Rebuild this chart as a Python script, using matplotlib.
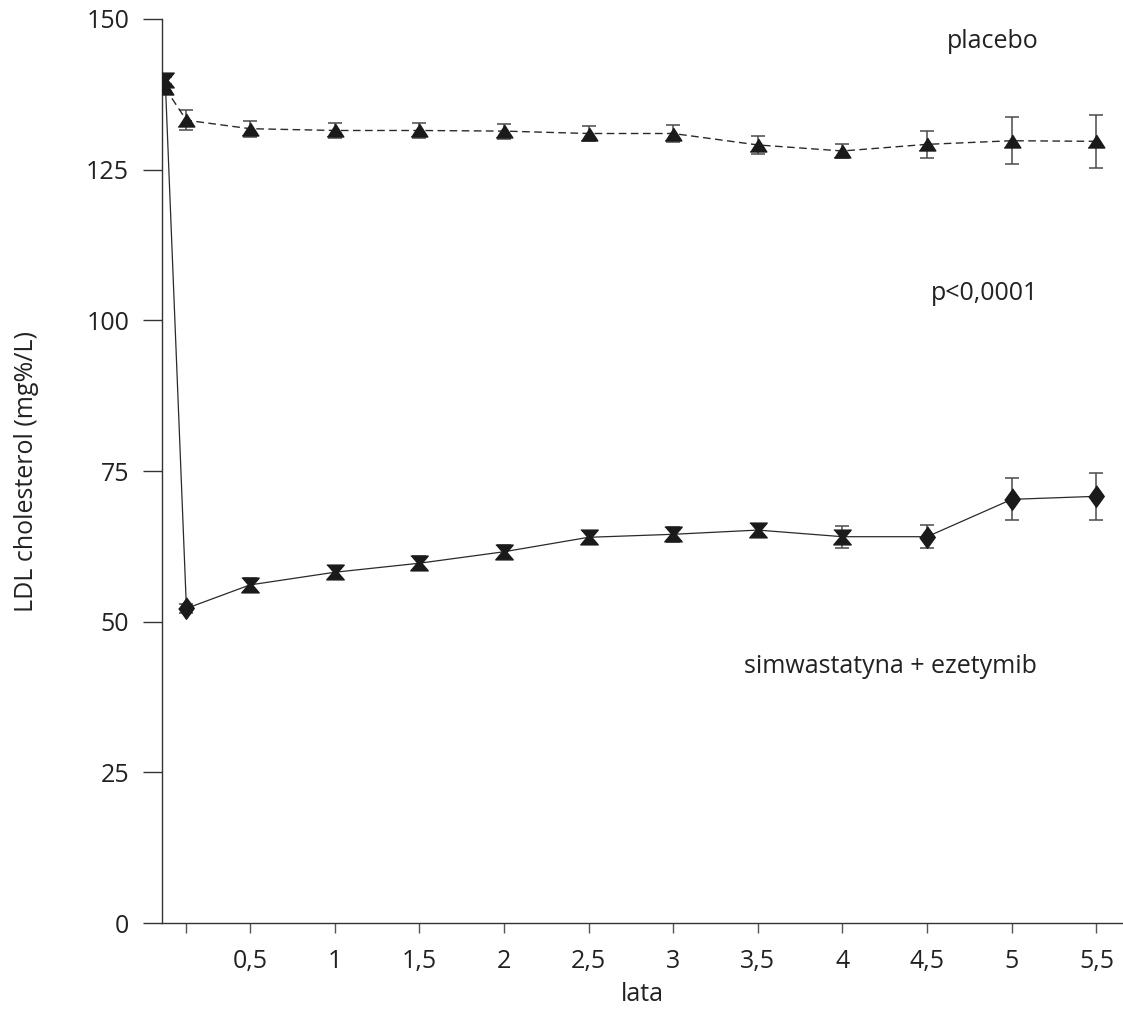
import matplotlib
matplotlib.use('Agg')
import matplotlib.pyplot as plt
import numpy as np

# ---- data ----
years = [0, 0.125, 0.5, 1, 1.5, 2, 2.5, 3, 3.5, 4, 4.5, 5, 5.5]
placebo = [138.5, 133.2, 131.8, 131.5, 131.5, 131.4, 131.0, 131.0, 129.1, 128.1, 129.2, 129.8, 129.7]
placebo_err = [0.5, 1.7, 1.3, 1.2, 1.3, 1.25, 1.2, 1.4, 1.45, 1.1, 2.2, 3.9, 4.4]
sim_eze = [139.8, 52.2, 56.1, 58.2, 59.7, 61.6, 64.0, 64.5, 65.2, 64.1, 64.1, 70.3, 70.8]
sim_eze_err = [0.6, 0.8, 1.1, 1.0, 1.2, 1.1, 1.1, 1.2, 1.0, 1.8, 1.9, 3.5, 3.85]
xticks = [0.125, 0.5, 1, 1.5, 2, 2.5, 3, 3.5, 4, 4.5, 5, 5.5]
xtick_labels = ['', '0,5', '1', '1,5', '2', '2,5', '3', '3,5', '4', '4,5', '5', '5,5']
yticks = [0, 25, 50, 75, 100, 125, 150]
ytick_labels = ['0', '25', '50', '75', '100', '125', '150']

plt.rcParams['font.family'] = ['Open Sans', 'DejaVu Sans']
FS = 18
TXT = '#222222'

fig = plt.figure(figsize=(11.23, 10.10), dpi=100)
ax = fig.add_axes([0.144, 0.0861, 0.856, 0.8951])

line_col = '#2a2a2a'
err_col = '#4a4a4a'

# custom marker shapes
tri = [(-1, -0.78), (1, -0.78), (0, 0.78)]
hourglass = [(-1, 0.85), (1, 0.85), (0.28, 0), (1, -0.85), (-1, -0.85), (-0.28, 0)]
diamond = [(0, 1), (0.72, 0), (0, -1), (-0.72, 0)]

x = np.array(years)
p = np.array(placebo)
s = np.array(sim_eze)

# error bars
ax.errorbar(x, p, yerr=placebo_err, fmt='none', ecolor=err_col, elinewidth=1.1,
            capsize=5, capthick=1.1, zorder=2)
ax.errorbar(x, s, yerr=sim_eze_err, fmt='none', ecolor=err_col, elinewidth=1.1,
            capsize=5, capthick=1.1, zorder=2)

# lines
ax.plot(x, p, color=line_col, lw=1.0, dashes=(5.5, 3.2), zorder=3)
ax.plot(x, s, color=line_col, lw=0.9, zorder=3)

# markers
ax.plot(x, p, linestyle='none', marker=tri, ms=12, color='#1a1a1a', zorder=4)
diamond_idx = [1, 10, 11, 12]
hour_idx = [i for i in range(len(x)) if i not in diamond_idx]
ax.plot(x[hour_idx], s[hour_idx], linestyle='none', marker=hourglass, ms=12.5,
        color='#1a1a1a', zorder=4)
ax.plot(x[diamond_idx], s[diamond_idx], linestyle='none', marker=diamond, ms=15.5,
        color='#1a1a1a', zorder=4)

ax.set_xlim(-0.021, 5.657)
ax.set_ylim(0, 150)

for side in ['top', 'right']:
    ax.spines[side].set_visible(False)
for side in ['left', 'bottom']:
    ax.spines[side].set_linewidth(1.0)
    ax.spines[side].set_color('#333333')

ax.set_xticks(xticks)
ax.set_xticklabels(xtick_labels)
ax.set_yticks(yticks)
ax.set_yticklabels(ytick_labels)
ax.tick_params(axis='y', direction='out', length=13.5, width=1.0, color='#333333',
               labelsize=FS, labelcolor=TXT, pad=10)
ax.tick_params(axis='x', direction='out', length=7.5, width=1.0, color='#555555',
               labelsize=FS, labelcolor=TXT, pad=11)

ax.set_xlabel('lata', fontsize=FS, color=TXT, labelpad=6)
ax.set_ylabel('LDL cholesterol (mg%/L)', fontsize=FS, color=TXT, labelpad=34)

ax.text(4.89, 146.2, 'placebo', fontsize=FS, color=TXT, ha='center', va='center')
ax.text(4.84, 104.5, 'p<0,0001', fontsize=FS, color=TXT, ha='center', va='center')
ax.text(4.285, 42.5, 'simwastatyna + ezetymib', fontsize=FS, color=TXT, ha='center', va='center')

fig.savefig('out.png', dpi=100)
